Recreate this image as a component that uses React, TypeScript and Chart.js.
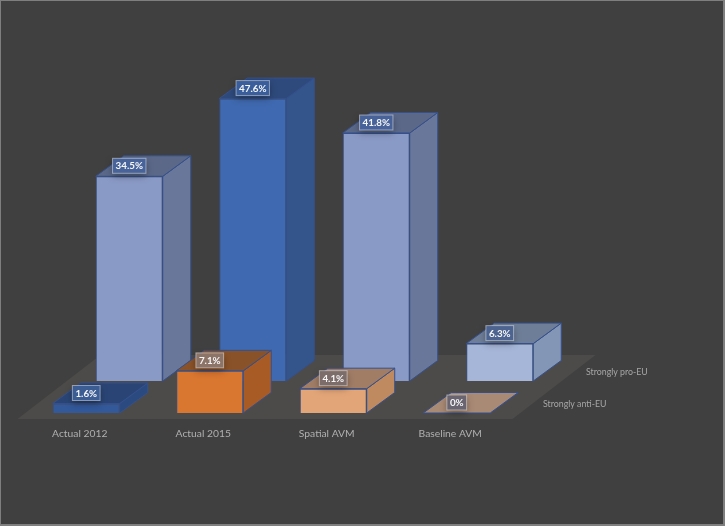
import React, { useEffect, useRef } from "react";
import { Chart, registerables } from "chart.js";

Chart.register(...registerables);

const categories = ["Actual 2012", "Actual 2015", "Spatial AVM", "Baseline AVM"];
const antiEU = [1.6, 7.1, 4.1, 0];
const proEU = [34.5, 47.6, 41.8, 6.3];
const seriesNames = ["Strongly anti-EU", "Strongly pro-EU"];

const antiFront = ["#33599b", "#d97630", "#e2a578", "#a98a75"];
const antiSide = ["#2b4a80", "#a85b24", "#bf8a60", "#a98a75"];
const antiTop = ["#2a4575", "#8a5228", "#a17d66", "#a98a75"];
const proFront = ["#8a9ac6", "#3f69b0", "#8a9ac6", "#a6b6d8"];
const proSide = ["#69779a", "#34548c", "#69779a", "#8496b5"];
const proTop = ["#5b6888", "#2e4a7c", "#5b6888", "#6e7e98"];
const antiLabelFill = ["#3c5c94", "#8d7468", "#7c6c6a", "#696470"];
const proLabelFill = ["#48639a", "#3a5e9c", "#48639a", "#4c648f"];

const rowShift = [{ x: 0, y: 0 }, { x: 43, y: -32 }];
const depth = { x: 28, y: -20.5 };
const edge = "#35508c";

function pathOf(ctx: CanvasRenderingContext2D, pts: number[][], fill: string) {
  ctx.beginPath();
  pts.forEach((p, i) => (i ? ctx.lineTo(p[0], p[1]) : ctx.moveTo(p[0], p[1])));
  ctx.closePath();
  ctx.fillStyle = fill;
  ctx.fill();
  ctx.strokeStyle = edge;
  ctx.lineWidth = 1;
  ctx.stroke();
}

const box3d = {
  id: "box3d",
  beforeDraw(chart: any) {
    const { ctx, width, height } = chart;
    ctx.save();
    ctx.fillStyle = "#7f7f7f";
    ctx.fillRect(0, 0, width, height);
    ctx.fillStyle = "#404040";
    ctx.fillRect(1, 1, width - 3, height - 3);
    ctx.restore();
  },
  beforeDatasetsDraw(chart: any) {
    const { ctx, scales } = chart;
    const base = scales.y.getPixelForValue(0);
    const l = scales.x.left - 7;
    const r = scales.x.right - 6;
    const f = base + 6;
    ctx.save();
    ctx.beginPath();
    ctx.moveTo(l, f);
    ctx.lineTo(r, f);
    ctx.lineTo(r + 83, f - 64);
    ctx.lineTo(l + 83, f - 64);
    ctx.closePath();
    ctx.fillStyle = "#4d4b49";
    ctx.fill();
    ctx.restore();
  },
  beforeDatasetDraw(chart: any, args: any) {
    const { ctx } = chart;
    const i = args.index;
    const s = rowShift[i];
    ctx.save();
    ctx.translate(s.x, s.y);
    const sides = i === 0 ? antiSide : proSide;
    const tops = i === 0 ? antiTop : proTop;
    args.meta.data.forEach((bar: any, k: number) => {
      const { x, y, base, width } = bar.getProps(["x", "y", "base", "width"], true);
      const x0 = x - width / 2;
      const x1 = x + width / 2;
      pathOf(ctx, [[x1, y], [x1 + depth.x, y + depth.y], [x1 + depth.x, base + depth.y], [x1, base]], sides[k]);
      pathOf(ctx, [[x0, y], [x1, y], [x1 + depth.x, y + depth.y], [x0 + depth.x, y + depth.y]], tops[k]);
    });
  },
  afterDatasetDraw(chart: any) {
    chart.ctx.restore();
  },
  afterDatasetsDraw(chart: any) {
    const { ctx, scales } = chart;
    ctx.save();
    ctx.font = "bold 9.8px Lato";
    ctx.textAlign = "center";
    ctx.textBaseline = "middle";
    [1, 0].forEach((i) => {
      const s = rowShift[i];
      const fills = i === 0 ? antiLabelFill : proLabelFill;
      chart.getDatasetMeta(i).data.forEach((bar: any, k: number) => {
        const { x, y } = bar.getProps(["x", "y"], true);
        const value = chart.data.datasets[i].data[k];
        const text = value + "%";
        const cx = x + s.x;
        const cy = y + s.y - 10.5;
        const w = ctx.measureText(text).width + 6;
        const h = 15;
        ctx.save();
        ctx.shadowColor = "rgba(0,0,0,0.35)";
        ctx.shadowBlur = 7;
        ctx.shadowOffsetY = 3;
        ctx.fillStyle = fills[k];
        ctx.fillRect(cx - w / 2, cy - h / 2, w, h);
        ctx.restore();
        ctx.strokeStyle = "rgba(255,255,255,0.45)";
        ctx.lineWidth = 1;
        ctx.strokeRect(cx - w / 2, cy - h / 2, w, h);
        ctx.fillStyle = "#f6f6f6";
        ctx.fillText(text, cx, cy + 0.5);
      });
    });
    ctx.font = "8.8px Lato";
    ctx.fillStyle = "#a6a6a6";
    ctx.textAlign = "left";
    const base = scales.y.getPixelForValue(0);
    seriesNames.forEach((name, i) => {
      const s = rowShift[i];
      ctx.fillText(name, scales.x.right + 24.5 + s.x, base - 8.5 + s.y);
    });
    ctx.restore();
  },
};

export default function App() {
  const ref = useRef<HTMLCanvasElement>(null);
  useEffect(() => {
    const chart = new Chart(ref.current!, {
      type: "bar",
      data: {
        labels: categories,
        datasets: [
          { label: seriesNames[0], data: antiEU, backgroundColor: antiFront, clip: false } as any,
          { label: seriesNames[1], data: proEU, backgroundColor: proFront, clip: false } as any,
        ],
      },
      options: {
        responsive: false,
        animation: false,
        layout: { padding: { left: 24.5, right: 206.5, top: 57, bottom: 0 } },
        datasets: {
          bar: {
            grouped: false,
            barPercentage: 0.5425,
            categoryPercentage: 1,
            borderWidth: 1,
            borderColor: edge,
          },
        } as any,
        plugins: { legend: { display: false }, tooltip: { enabled: false } },
        scales: {
          x: {
            grid: { display: false },
            border: { display: false },
            afterFit: (s: any) => {
              s.height = 113;
            },
            ticks: {
              color: "#b0b0b0",
              font: { family: "Lato", size: 10.3 },
              padding: 6,
              labelOffset: -6.5,
              maxRotation: 0,
              autoSkip: false,
            },
          },
          y: { display: false, min: 0, max: 60 },
        },
      },
      plugins: [box3d],
    } as any);
    return () => chart.destroy();
  }, []);
  return (
    <div style={{ position: "absolute", left: 0, top: 0, width: 725, height: 526 }}>
      <canvas ref={ref} width={725} height={526} style={{ display: "block" }} />
    </div>
  );
}
